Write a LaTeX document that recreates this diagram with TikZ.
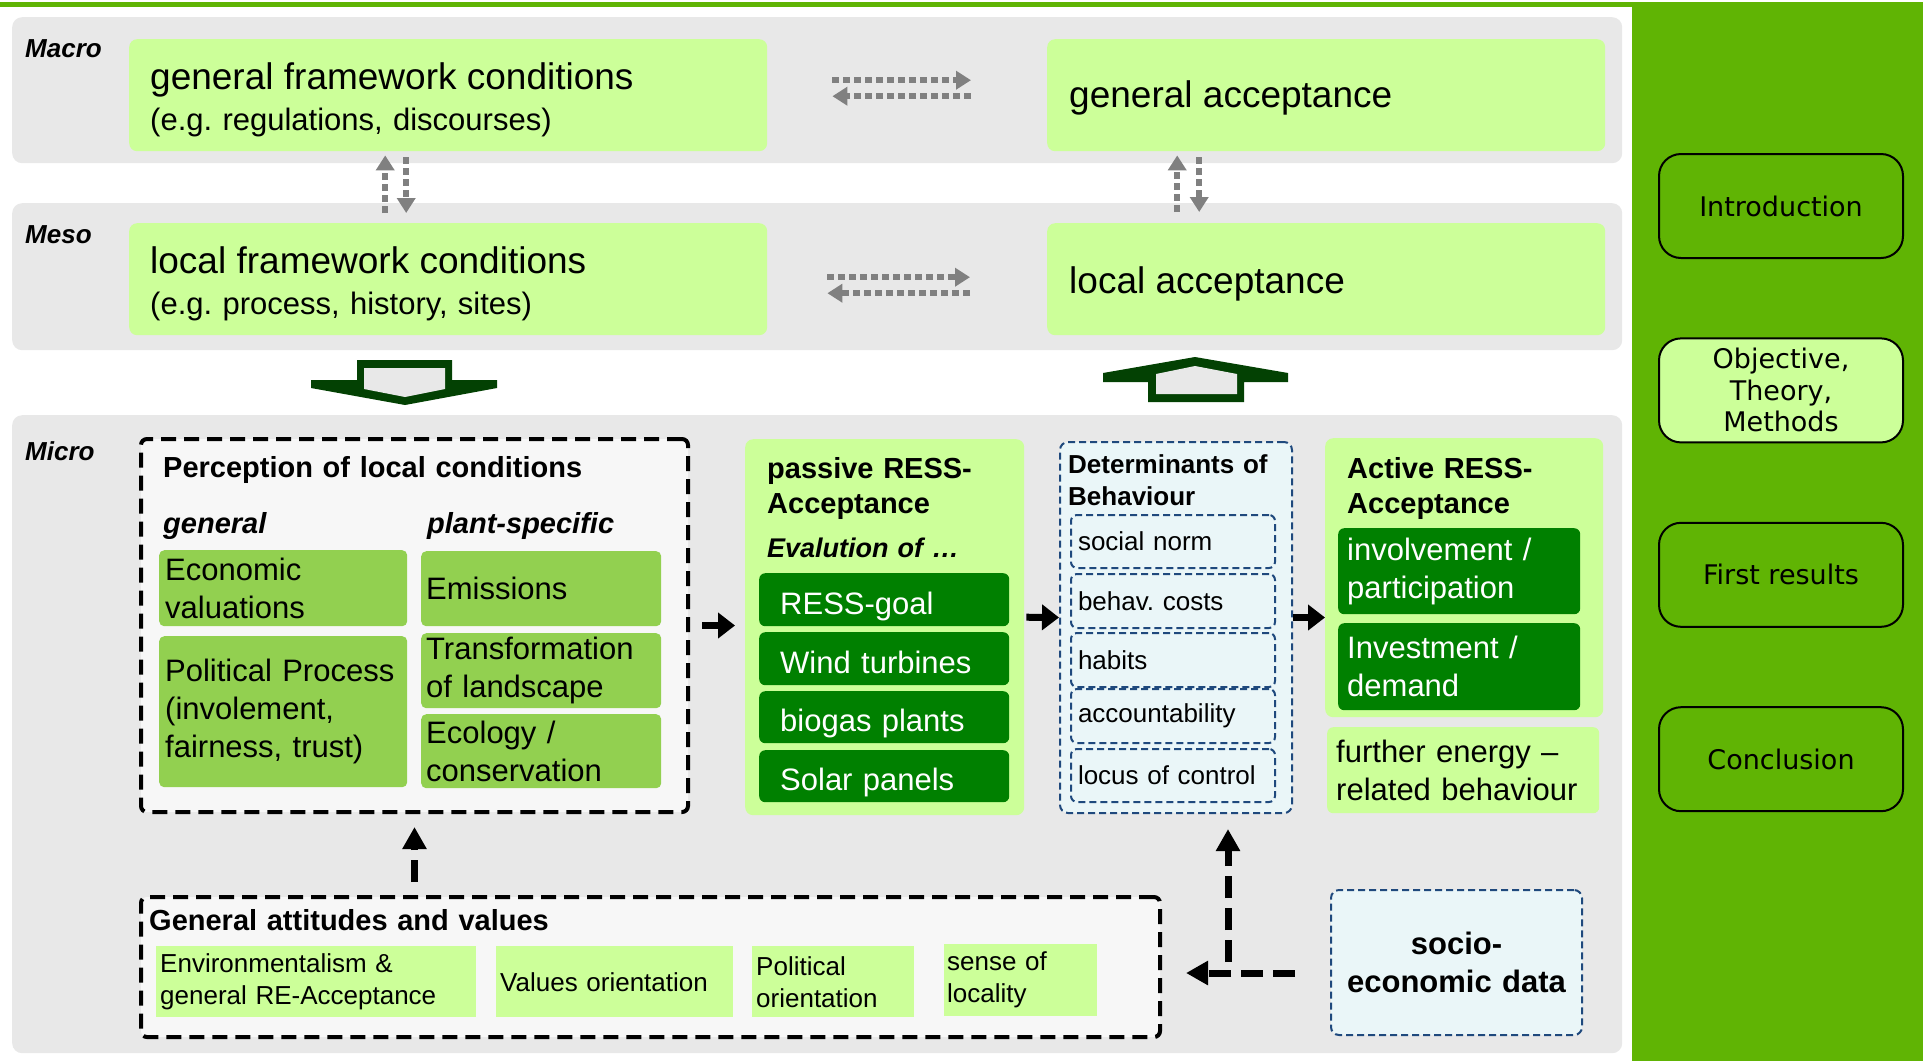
\documentclass[tikz,border=0pt]{standalone}
\usepackage{fontspec}
\setmainfont{Liberation Sans}
\newfontfamily\navfont{DejaVu Sans}
\usetikzlibrary{arrows.meta,positioning}

\definecolor{slidegreen}{RGB}{96,180,4}
\definecolor{panelgray}{RGB}{232,232,232}
\definecolor{lightgreen}{RGB}{204,255,153}
\definecolor{midgreen}{RGB}{146,208,80}
\definecolor{darkgreen}{RGB}{0,128,0}
\definecolor{arrowgreen}{RGB}{3,65,3}
\definecolor{boxgray}{RGB}{247,247,247}
\definecolor{detblue}{RGB}{234,246,248}
\definecolor{detline}{RGB}{31,73,125}

\newcommand\hugetext{\fontsize{37}{44}\selectfont}
\newcommand\bodytext{\fontsize{31}{38}\selectfont}
\newcommand\headtext{\fontsize{29}{35}\selectfont\bfseries}
\newcommand\smalltext{\fontsize{26}{32}\selectfont}

\begin{document}
\begin{tikzpicture}[x=1pt,y=-1pt,
    box/.code n args={5}{%
      \pgfmathsetmacro\boxw{#3-#1}%
      \pgfmathsetmacro\boxh{#4-#2}%
      \pgfmathsetmacro\boxtw{#3-#1-2*#5}%
      \pgfkeysalso{at={(#1,#2)}, anchor=north west, inner xsep=#5pt, inner ysep=0pt,
        minimum width=\boxw pt, minimum height=\boxh pt, text width=\boxtw pt, align=left}},
    panel/.style={fill=panelgray, rounded corners=10pt},
    level/.style={anchor=base west, inner sep=0pt, font=\smalltext\bfseries\itshape},
    head/.style={anchor=base west, inner sep=0pt, text width=460pt, align=left, font=\headtext},
    subhead/.style={head, font=\headtext\itshape},
    lightbox/.style={fill=lightgreen, rounded corners=8pt, font=\bodytext},
    framebox/.style={lightbox, text height=37pt, font=\fontsize{31}{41}\selectfont},
    midbox/.style={fill=midgreen, rounded corners=5pt, font=\bodytext},
    darkbox/.style={fill=darkgreen, rounded corners=6pt, text=white, font=\bodytext},
    lowtext/.style={text height=#1, text depth=0pt},
    lowtext/.default=29pt,
    dashbox/.style={draw=black, line width=4pt, dash pattern=on 15pt off 8pt, fill=boxgray, rounded corners=6pt},
    detbox/.style={draw=detline, line width=2pt, dash pattern=on 7pt off 4pt, fill=detblue, rounded corners=8pt},
    detitem/.style={detbox, rounded corners=6pt, font=\smalltext},
    attbox/.style={fill=lightgreen, font=\smalltext},
    navbtn/.style={draw=black, line width=2pt, rounded corners=22pt, fill=slidegreen,
      minimum width=244pt, minimum height=104pt, align=center, inner sep=0pt,
      font=\navfont\fontsize{27}{31.5}\selectfont},
    grayarr/.style={draw=gray, line width=5.5pt, dash pattern=on 7pt off 4pt,
      -{Triangle[length=15pt,width=18pt]}},
    flow/.style={draw=black, line width=7pt, -{Triangle[length=17pt,width=25pt]}},
    dflow/.style={flow, dash pattern=on 22pt off 10pt, -{Triangle[length=22pt,width=23pt]}}]

  \useasboundingbox (0,0) rectangle (1927,1061);
  \fill[white] (0,0) rectangle (1927,1061);
  \fill[slidegreen] (0,2) rectangle (1923,7);
  \fill[slidegreen] (1632,2) rectangle (1923,1061);

  % levels
  \node[panel, box={12}{17}{1622}{163}{0}] (macro) {};
  \node[panel, box={12}{203}{1622}{350}{0}] (meso) {};
  \node[panel, box={12}{415}{1622}{1053}{0}] (micro) {};
  \node[level] (macrolbl) at (25,57) {Macro};
  \node[level] (mesolbl) at (25,243) {Meso};
  \node[level] (microlbl) at (25,460) {Micro};

  \node[framebox, box={129}{39}{767}{151}{21}] (gfc)
    {{\hugetext general framework conditions}\\(e.g.\ regulations, discourses)};
  \node[lightbox, lowtext=25pt, box={1047}{39}{1605}{151}{22}] (gacc) {\hugetext general acceptance};
  \node[framebox, box={129}{223}{767}{335}{21}] (lfc)
    {{\hugetext local framework conditions}\\(e.g.\ process, history, sites)};
  \node[lightbox, lowtext=29pt, box={1047}{223}{1605}{335}{22}] (lacc) {\hugetext local acceptance};

  % block arrows
  \fill[arrowgreen] (357,360) -- (452,360) -- (452,380) -- (497,380) -- (497,388)
    -- (405,405) -- (311,388) -- (311,380) -- (357,380) -- cycle;
  \fill[panelgray] (364,368) -- (445,368) -- (445,389) -- (405,397) -- (364,389) -- cycle;
  \fill[arrowgreen] (1195,357) -- (1288,373) -- (1288,382) -- (1244,382) -- (1244,402)
    -- (1148,402) -- (1148,382) -- (1103,382) -- (1103,373) -- cycle;
  \fill[panelgray] (1156,374) -- (1195,366) -- (1237,374) -- (1237,394) -- (1156,394) -- cycle;

  % micro level
  \node[dashbox, box={139}{437}{686}{810}{0}] (perc) {};
  \node[head] (perctitle) at (163,477) {Perception of local conditions};
  \node[subhead] (gentitle) at (163,533) {general};
  \node[subhead] (planttitle) at (427,533) {plant-specific};
  \node[midbox, box={159}{550}{407}{626}{6}] (econ) {Economic\\valuations};
  \node[midbox, box={159}{636}{407}{787}{6}] (polit) {Political Process\\(involement,\\fairness, trust)};
  \node[midbox, box={421}{551}{661}{626}{5}] (emis) {Emissions};
  \node[midbox, box={421}{633}{661}{708}{5}] (trans) {Transformation\\of landscape};
  \node[midbox, box={421}{714}{661}{788}{5}] (ecol) {Ecology /\\conservation};

  \node[lightbox, box={745}{439}{1024}{815}{0}] (pas) {};
  \node[head] (pastitle) at (767,478) {passive RESS-\\Acceptance};
  \node[head, font=\fontsize{27}{32}\selectfont\bfseries\itshape] (evaltitle) at (767,557) {Evalution of …};
  \node[darkbox, lowtext, box={759}{573}{1009}{626}{21}] (goal) {RESS-goal};
  \node[darkbox, lowtext, box={759}{632}{1009}{685}{21}] (wind) {Wind turbines};
  \node[darkbox, lowtext, box={759}{691}{1009}{743}{21}] (biogas) {biogas plants};
  \node[darkbox, lowtext, box={759}{750}{1009}{802}{21}] (solar) {Solar panels};

  \node[detbox, box={1059}{441}{1291}{812}{0}] (det) {};
  \node[head, font=\fontsize{26}{32}\selectfont\bfseries] (dettitle) at (1068,473) {Determinants of\\Behaviour};
  \node[detitem, box={1070}{514}{1274}{567}{7}] (norm) {social norm};
  \node[detitem, box={1070}{573}{1274}{627}{7}] (costs) {behav.\ costs};
  \node[detitem, box={1070}{632}{1274}{686}{7}] (habits) {habits};
  \node[detitem, box={1070}{688}{1274}{742}{7}] (account) {accountability};
  \node[detitem, box={1070}{748}{1274}{801}{7}] (locus) {locus of control};

  \node[lightbox, box={1325}{438}{1603}{717}{0}] (act) {};
  \node[head] (acttitle) at (1347,478) {Active RESS-\\Acceptance};
  \node[darkbox, box={1338}{528}{1580}{614}{9}] (involve) {involvement /\\participation};
  \node[darkbox, box={1338}{623}{1580}{710}{9}] (invest) {Investment /\\demand};
  \node[lightbox, rounded corners=6pt, box={1327}{727}{1599}{813}{9}] (further) {further energy –\\related behaviour};

  \node[dashbox, box={139}{895}{1158}{1035}{0}] (att) {};
  \node[head] (atttitle) at (149,930) {General attitudes and values};
  \node[attbox, box={156}{946}{476}{1017}{4}] (envir) {Environmentalism \&\\general RE-Acceptance};
  \node[attbox, box={496}{946}{733}{1017}{4}] (valor) {Values orientation};
  \node[attbox, box={752}{946}{914}{1017}{4}] (polor) {Political\\orientation};
  \node[attbox, box={944}{944}{1097}{1016}{3}] (locality) {sense of\\locality};

  \node[detbox, box={1330}{889}{1581}{1034}{0}, align=center, font=\bodytext\bfseries] (socio) {socio-\\economic data};
  \coordinate (turn) at (1228,973);

  % navigation
  \node[navbtn] (intro) at (1781,206) {Introduction};
  \node[navbtn, fill=lightgreen, below=78.4pt of intro] (objective) {Objective,\\Theory,\\Methods};
  \node[navbtn, below=78.4pt of objective] (results) {First results};
  \node[navbtn, below=78.4pt of results] (concl) {Conclusion};

  % connectors
  \draw[grayarr, shorten <=65pt, shorten >=76pt] ([yshift=15pt]gfc.east) -- ([yshift=15pt]gacc.west);
  \draw[grayarr, shorten <=76pt, shorten >=65pt] ([yshift=-1pt]gacc.west) -- ([yshift=-1pt]gfc.east);
  \draw[grayarr, shorten <=60pt, shorten >=77pt] ([yshift=2pt]lfc.east) -- ([yshift=2pt]lacc.west);
  \draw[grayarr, shorten <=77pt, shorten >=60pt] ([yshift=-14pt]lacc.west) -- ([yshift=-14pt]lfc.east);
  \draw[grayarr, shorten <=10pt, shorten >=4pt] ([xshift=-63pt]lfc.north) -- ([xshift=-63pt]gfc.south);
  \draw[grayarr, shorten <=6pt, shorten >=10pt] ([xshift=-42pt]gfc.south) -- ([xshift=-42pt]lfc.north);
  \draw[grayarr, shorten <=11pt, shorten >=4pt] ([xshift=-149pt]lacc.north) -- ([xshift=-149pt]gacc.south);
  \draw[grayarr, shorten <=6pt, shorten >=11pt] ([xshift=-127pt]gacc.south) -- ([xshift=-127pt]lacc.north);

  \draw[flow, shorten <=12pt, shorten >=10pt] (perc.east) -- (perc.east -| pas.west);
  \draw[flow, shorten <=2pt] ([yshift=10pt]pas.east) -- ([yshift=10pt]det.west);
  \draw[flow] ([yshift=10pt]det.east) -- ([yshift=10pt]det.east -| act.west);
  \draw[dflow, shorten <=13pt, shorten >=13pt] (perc.south |- att.north) -- (perc.south);
  \draw[dflow, shorten <=35pt, shorten >=24pt] (turn -| socio.west) -- (turn -| att.east);
  \draw[dflow, shorten <=11pt, shorten >=15pt] (turn) -- (turn |- det.south);
\end{tikzpicture}
\end{document}
